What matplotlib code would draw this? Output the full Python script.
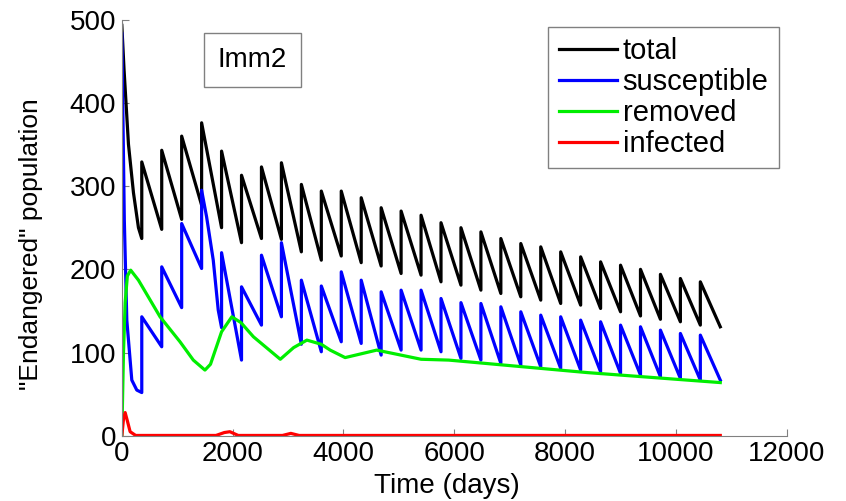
import numpy as np
import matplotlib.pyplot as plt

plt.rcParams['font.family'] = ['Liberation Sans', 'DejaVu Sans']

year = 360          # restocking period (days)
n_years = 30

# population right after each yearly restock, and right before the next one
total_start = [493, 329, 343, 360, 376, 342, 313, 323, 328, 302, 294, 294, 286, 274, 270,
               265, 256, 250, 245, 237, 231, 227, 221, 215, 209, 205, 200, 194, 189, 185]
total_end = [237, 248, 260, 277, 250, 232, 237, 236, 221, 211, 216, 208, 204, 195, 193,
             185, 181, 175, 171, 167, 163, 159, 157, 153, 149, 144, 140, 137, 133, 131]
sus_start = [483, 143, 203, 255, 295, 220, 179, 217, 232, 187, 180, 197, 187, 173, 175,
             175, 165, 160, 159, 155, 149, 145, 143, 139, 137, 133, 131, 127, 123, 121]
sus_end = [52, 107, 154, 201, 130, 91, 133, 143, 110, 101, 113, 111, 97, 103, 103,
           101, 93, 91, 87, 85, 83, 81, 79, 77, 75, 73, 71, 69, 67, 67]

# extra points inside years where the decline is not straight (epidemic outbreaks)
total_bends = {0: ([40, 120, 210, 300], [440, 350, 292, 250])}
sus_bends = {0: ([45, 90, 180, 270], [259, 139, 67, 55]),
             4: ([1530, 1650, 1740], [263, 211, 151])}

removed_days = [0, 30, 60, 100, 160, 300, 690, 1050, 1290, 1500, 1600, 1800, 1985, 2150,
                2375, 2860, 3100, 3340, 3600, 3760, 4030, 4600, 5400, 5900, 8400, 10800]
removed = [0, 100, 160, 192, 199, 187, 143, 113, 91, 79, 86, 125, 143, 136,
           119, 92, 106, 115, 110, 103, 94, 103, 92, 91, 76, 64]

infected_days = [0, 30, 60, 100, 150, 250, 1700, 1850, 1950, 2100, 2900, 3050, 3200, 10800]
infected = [0, 20, 28, 18, 5, 0.5, 0.5, 4, 5, 0.5, 0.5, 3, 0.5, 0.5]


def sawtooth(starts, ends, bends):
    days, vals = [], []
    for k in range(n_years):
        t0 = k * year
        mid_d, mid_v = bends.get(k, ([], []))
        days += [t0] + list(mid_d) + [t0 + year]
        vals += [starts[k]] + list(mid_v) + [ends[k]]
    return days, vals


fig = plt.figure(figsize=(8.46, 5.01), dpi=100)
ax = fig.add_axes([0.144, 0.13, 0.786, 0.831])

lw = 2.3
ax.plot(*sawtooth(total_start, total_end, total_bends), color='k', lw=lw, label='total')
ax.plot(*sawtooth(sus_start, sus_end, sus_bends), color='#0000ff', lw=lw, label='susceptible')
ax.plot(removed_days, removed, color='#00ee00', lw=lw, label='removed')
ax.plot(infected_days, infected, color='#ff0000', lw=lw, label='infected')

ax.set_xlim(0, 12000)
ax.set_ylim(0, 500)
ax.set_xticks(np.arange(0, 12001, 2000))
ax.set_yticks(np.arange(0, 501, 100))
for s in ['top', 'right']:
    ax.spines[s].set_visible(False)
for s in ['left', 'bottom']:
    ax.spines[s].set_color('#808080')
ax.tick_params(direction='in', length=5, color='#808080', labelsize=20, pad=4)

ax.set_xlabel('Time (days)', fontsize=20)
ax.set_ylabel('"Endangered" population', fontsize=19)
ax.xaxis.set_label_coords(0.489, -0.088)
ax.yaxis.set_label_coords(-0.118, 0.46)

leg = ax.legend(loc='upper right', bbox_to_anchor=(0.988, 0.982), borderaxespad=0,
                fontsize=21, handlelength=2.0, handletextpad=0.2, labelspacing=0.1,
                borderpad=0.35, fancybox=False, edgecolor='#808080', framealpha=1)
leg.get_frame().set_linewidth(1)

ax.text(0.196, 0.903, 'Imm2', transform=ax.transAxes, fontsize=20, ha='center', va='center',
        bbox=dict(boxstyle='square,pad=0.5', fc='white', ec='#808080', lw=1))

fig.savefig('out.png', dpi=100)
